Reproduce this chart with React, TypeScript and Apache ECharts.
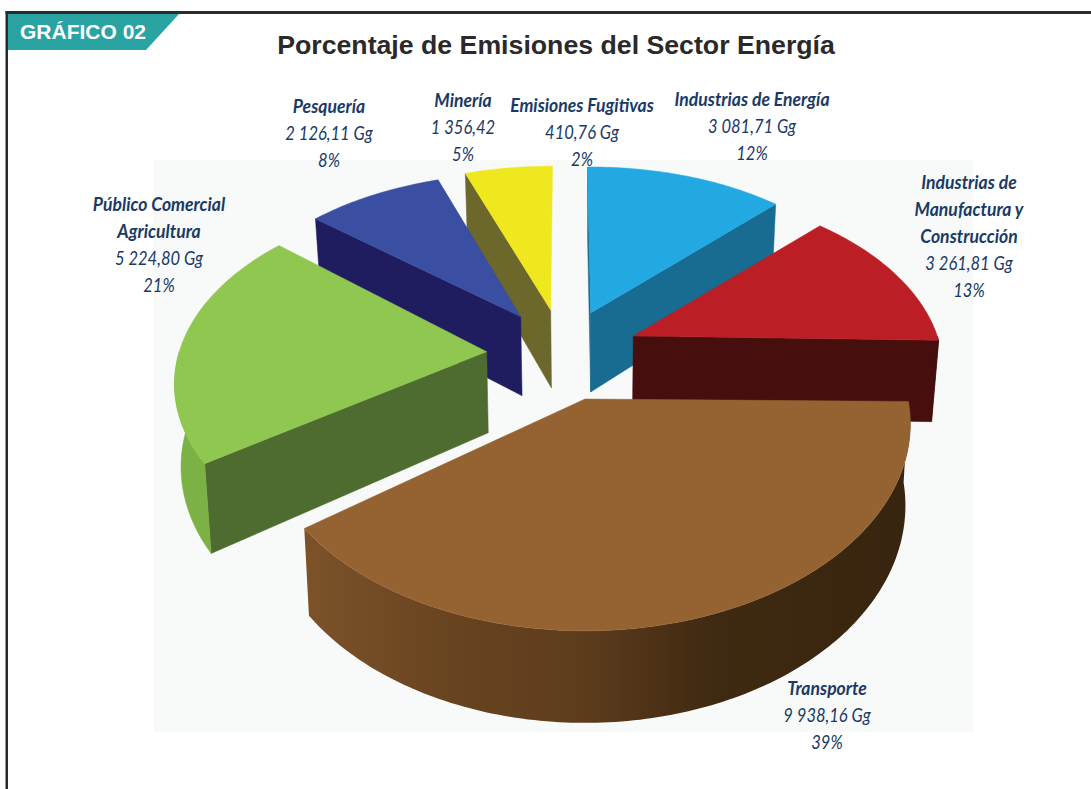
import React, { useEffect, useRef } from "react";
import * as echarts from "echarts";

const chartTitle = "Porcentaje de Emisiones del Sector Energía";
const badgeText = "GRÁFICO 02";

// Values drawn as slices (Emisiones Fugitivas has no visible slice in the reference)
const sliceNames = ["Industrias de Energía", "Industrias de Manufactura y Construcción", "Transporte", "Público Comercial Agricultura", "Pesquería", "Minería"];
const sliceValues = [3081.71, 3261.81, 9938.16, 5224.8, 2126.11, 1356.42];
const topColors = ["#23a9e2", "#bb1f25", "#956331", "#8fc750", "#3a4fa1", "#f0e81e"];
const wallColors = ["#186b91", "#470e0e", "#5a3a1c", "#4e6c2f", "#1f1c60", "#6c672a"];
const drawOrder = [5, 0, 4, 1, 3, 2];

// Label texts
const labelLines = [
  { name: ["Pesquería"], rest: ["2 126,11 Gg", "8%"], x: 329, y: 106 },
  { name: ["Minería"], rest: ["1 356,42", "5%"], x: 463, y: 100 },
  { name: ["Emisiones Fugitivas"], rest: ["410,76 Gg", "2%"], x: 582, y: 105 },
  { name: ["Industrias de Energía"], rest: ["3 081,71 Gg", "12%"], x: 752, y: 99 },
  { name: ["Industrias de", "Manufactura y", "Construcción"], rest: ["3 261,81 Gg", "13%"], x: 969, y: 182 },
  { name: ["Público Comercial", "Agricultura"], rest: ["5 224,80 Gg", "21%"], x: 159, y: 204 },
  { name: ["Transporte"], rest: ["9 938,16 Gg", "39%"], x: 827, y: 688 },
];

// Projection of each slice: apex, radii, perspective strength, extrusion, rotation nudge, wall lean
const geometry = [
  { cx: 590.7, cy: 313, S: 291, Sc: 163.5, k: 0.12, D: 79, nudge: 0, tilt: 0.02 },
  { cx: 633.3, cy: 336, S: 304, Sc: 175.6, k: 0.195, D: 81, nudge: 0.7, tilt: 0.02 },
  { cx: 585, cy: 399, S: 323, Sc: 204, k: 0.12, D: 81, nudge: 0, tilt: 0.015 },
  { cx: 486.7, cy: 351.7, S: 307.4, Sc: 180, k: 0.1745, D: 81, nudge: 2, tilt: 0.015 },
  { cx: 520.7, cy: 316.7, S: 294, Sc: 160.5, k: 0.12, D: 79, nudge: 2, tilt: 0.02 },
  { cx: 550.7, cy: 310, S: 290, Sc: 161, k: 0.12, D: 78, nudge: 1.1, tilt: 0.02 },
];
const START_ANGLE = -0.7;
const VANISH_X = 590;

const total = sliceValues.reduce((a, b) => a + b, 0);
const angleRange = (i: number) => {
  let before = 0;
  for (let j = 0; j < i; j++) before += sliceValues[j];
  const a0 = START_ANGLE + (before / total) * 360 + geometry[i].nudge;
  return [a0, a0 + (sliceValues[i] / total) * 360];
};

type G = (typeof geometry)[number];
const rim = (g: G, deg: number) => {
  const r = (deg * Math.PI) / 180;
  const w = 1 + g.k * Math.cos(r);
  return { x: g.cx + (g.S * Math.sin(r)) / w, y: g.cy - (g.Sc * Math.cos(r)) / w, w };
};
const lower = (g: G, p: { x: number; y: number; w: number }) => {
  const depth = g.D / p.w;
  return [VANISH_X + (p.x - VANISH_X) * (1 - (g.tilt * depth) / 80), p.y + depth];
};
const arcPoints = (g: G, a0: number, a1: number) => {
  const out: { x: number; y: number; w: number }[] = [];
  const n = Math.max(2, Math.ceil(Math.abs(a1 - a0)));
  for (let i = 0; i <= n; i++) out.push(rim(g, a0 + ((a1 - a0) * i) / n));
  return out;
};

const brownWall = {
  type: "linear", x: 0, y: 0, x2: 1, y2: 0,
  colorStops: [
    { offset: 0, color: "#7d5229" },
    { offset: 0.25, color: "#67431f" },
    { offset: 0.45, color: "#5e3d1d" },
    { offset: 0.68, color: "#3f2911" },
    { offset: 1, color: "#38250f" },
  ],
};
const outerFill = (i: number) => (i === 2 ? brownWall : i === 3 ? "#7cb145" : wallColors[i]);

const renderSlice = (params: any, api: any) => {
  const i = api.value(0) as number;
  const g = geometry[i];
  const [a0, a1] = angleRange(i);
  const apex = { x: g.cx, y: g.cy, w: 1 };
  const children: any[] = [];
  const poly = (pts: number[][], fill: any) =>
    children.push({ type: "polygon", silent: true, shape: { points: pts }, style: { fill, stroke: typeof fill === "string" ? fill : "none", lineWidth: 0.5 } });
  const radial = (deg: number) => {
    const p = rim(g, deg);
    poly([[p.x, p.y], [apex.x, apex.y], lower(g, apex), lower(g, p)], wallColors[i]);
  };
  if (Math.sin((a0 * Math.PI) / 180) < 0) radial(a0);
  if (Math.sin((a1 * Math.PI) / 180) > 0.02) radial(a1);
  const lo = Math.max(a0, 90);
  const hi = Math.min(a1, 270);
  if (hi > lo) {
    const arc = arcPoints(g, lo, hi);
    poly([...arc.map((p) => [p.x, p.y]), ...arc.slice().reverse().map((p) => lower(g, p))], outerFill(i));
  }
  poly([[apex.x, apex.y], ...arcPoints(g, a0, a1).map((p) => [p.x, p.y])], topColors[i]);
  return { type: "group", children };
};

const labelGraphics = () => {
  const out: any[] = [];
  const step = 26.8;
  labelLines.forEach((l) => {
    [...l.name.map((t) => ({ t, b: true })), ...l.rest.map((t) => ({ t, b: false }))].forEach((line, n) => {
      out.push({
        type: "text",
        x: l.x,
        y: l.y + n * step,
        scaleX: line.b ? 0.925 : 0.87,
        z: 20,
        silent: true,
        style: {
          text: line.t,
          fill: "#1a3a66",
          font: `italic ${line.b ? "bold" : "normal"} 19px Lato, sans-serif`,
          align: "center",
          verticalAlign: "middle",
        },
      });
    });
  });
  return out;
};

export default function App() {
  const ref = useRef<HTMLDivElement>(null);
  useEffect(() => {
    document.body.style.margin = "0";
    const chart = echarts.init(ref.current!, null, { renderer: "svg" });
    chart.setOption({
      animation: false,
      backgroundColor: "#ffffff",
      title: {
        text: chartTitle,
        left: 551,
        top: 26,
        textAlign: "center",
        textStyle: { fontFamily: "Liberation Sans", fontWeight: "bold", fontSize: 26.7, color: "#2a2a2a" },
      },
      graphic: [
        { type: "rect", z: 0, silent: true, shape: { x: 154, y: 160, width: 819, height: 572 }, style: { fill: "#f8fafa" } },
        { type: "rect", z: 1, silent: true, shape: { x: 5.5, y: 11, width: 1086, height: 3 }, style: { fill: "#2b2b2b" } },
        { type: "rect", z: 1, silent: true, shape: { x: 5.5, y: 11, width: 2.5, height: 778 }, style: { fill: "#2b2b2b" } },
        { type: "polygon", z: 1, silent: true, shape: { points: [[8, 14], [179, 14], [146, 50], [8, 50]] }, style: { fill: "#2aa3a3" } },
        {
          type: "text", z: 2, silent: true, x: 20, y: 31,
          style: { text: badgeText, fill: "#ffffff", font: "bold 21px 'Liberation Sans'", align: "left", verticalAlign: "middle" },
        },
        ...labelGraphics(),
      ],
      series: [
        {
          type: "custom",
          name: "Emisiones",
          coordinateSystem: "none",
          silent: true,
          z: 5,
          renderItem: renderSlice,
          data: drawOrder.map((i) => ({ name: sliceNames[i], value: [i, sliceValues[i]] })),
        },
      ],
    });
    return () => chart.dispose();
  }, []);
  return <div ref={ref} style={{ position: "absolute", left: 0, top: 0, width: 1091, height: 789 }} />;
}
